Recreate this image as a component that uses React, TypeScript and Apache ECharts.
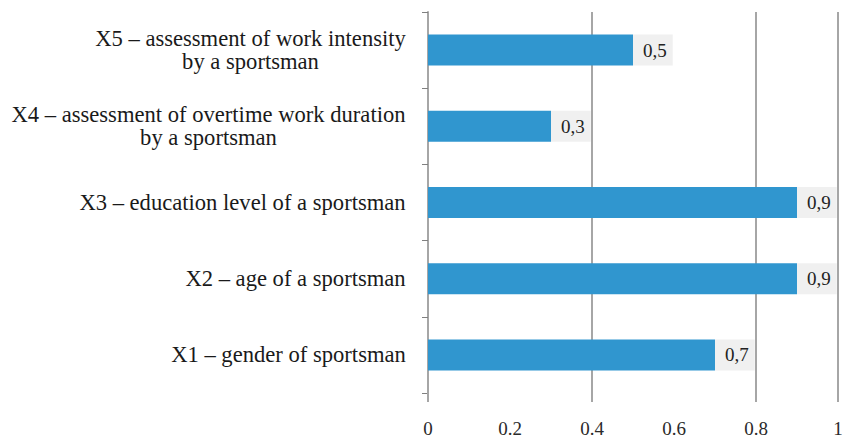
import React, { useEffect, useRef } from "react";
import * as echarts from "echarts";

const categories = [
  "X1 – gender of sportsman",
  "X2 – age of a sportsman",
  "X3 – education level of a sportsman",
  "X4 – assessment of overtime work duration\nby a sportsman",
  "X5 – assessment of work intensity\nby a sportsman",
];
const values = [0.7, 0.9, 0.9, 0.3, 0.5];
const xTickLabels = ["0", "0.2", "0.4", "0.6", "0.8", "1"];

const FONT = "Times New Roman, Liberation Serif, serif";
const CAT_SIZE = 22.6;

function measure(text: string, size: number): number {
  const c = document.createElement("canvas");
  const ctx = c.getContext("2d");
  if (!ctx) return text.length * size * 0.45;
  ctx.font = `${size}px "Times New Roman", "Liberation Serif", serif`;
  return ctx.measureText(text).width;
}

export default function App() {
  const ref = useRef<HTMLDivElement>(null);
  useEffect(() => {
    if (!ref.current) return;
    const chart = echarts.init(ref.current, null, { renderer: "svg" });

    const rich: Record<string, any> = {};
    categories.forEach((cat, i) => {
      const lines = cat.split("\n");
      const w = Math.max(...lines.map((l) => measure(l, CAT_SIZE)));
      rich["c" + i] = {
        width: Math.ceil(w),
        align: "center",
        fontSize: CAT_SIZE,
        fontFamily: FONT,
        color: "#1a1a1a",
        lineHeight: 23,
      };
    });

    chart.setOption({
      animation: false,
      backgroundColor: "#ffffff",
      textStyle: { fontFamily: FONT },
      grid: { left: 428, right: 18, top: 12, bottom: 44, containLabel: false },
      xAxis: [
        {
          type: "value",
          min: 0,
          max: 1,
          interval: 0.2,
          axisLine: { show: false },
          axisTick: { show: false },
          splitLine: { show: false },
          axisLabel: {
            margin: 26,
            fontSize: 19,
            fontFamily: FONT,
            color: "#2a2a2a",
            formatter: (v: number) => {
              const idx = Math.round(v / 0.2);
              return xTickLabels[idx] ?? String(v);
            },
          },
        },
        {
          type: "value",
          min: 0,
          max: 1,
          interval: 0.4,
          position: "bottom",
          axisLine: { show: false },
          axisLabel: { show: false },
          axisTick: {
            show: true,
            length: 9,
            lineStyle: { color: "#a6a6a6", width: 2 },
          },
          splitLine: {
            show: true,
            lineStyle: { color: "#a6a6a6", width: 2 },
          },
        },
      ],
      yAxis: {
        type: "category",
        data: categories,
        axisLine: { show: true, lineStyle: { color: "#a6a6a6", width: 2 } },
        axisTick: { show: true, length: 6, lineStyle: { color: "#808080", width: 1 } },
        splitLine: { show: false },
        axisLabel: {
          margin: 22,
          align: "right",
          fontFamily: FONT,
          fontSize: CAT_SIZE,
          formatter: (val: string, idx: number) =>
            val
              .split("\n")
              .map((l) => `{c${idx}|${l}}`)
              .join("\n"),
          rich,
        },
      },
      series: [
        {
          type: "bar",
          xAxisIndex: 0,
          data: values,
          barWidth: 31,
          itemStyle: { color: "#3096cf" },
          label: {
            show: true,
            position: "right",
            distance: 0,
            formatter: (p: any) => String(p.value).replace(".", ","),
            fontSize: 19,
            fontFamily: FONT,
            color: "#222222",
            backgroundColor: "#f0f0f0",
            padding: [0, 6, 0, 10],
            height: 31,
            lineHeight: 31,
          },
        },
      ],
    });
    return () => chart.dispose();
  }, []);
  return (
    <div
      ref={ref}
      style={{ position: "absolute", left: 0, top: 0, width: 856, height: 438 }}
    />
  );
}
